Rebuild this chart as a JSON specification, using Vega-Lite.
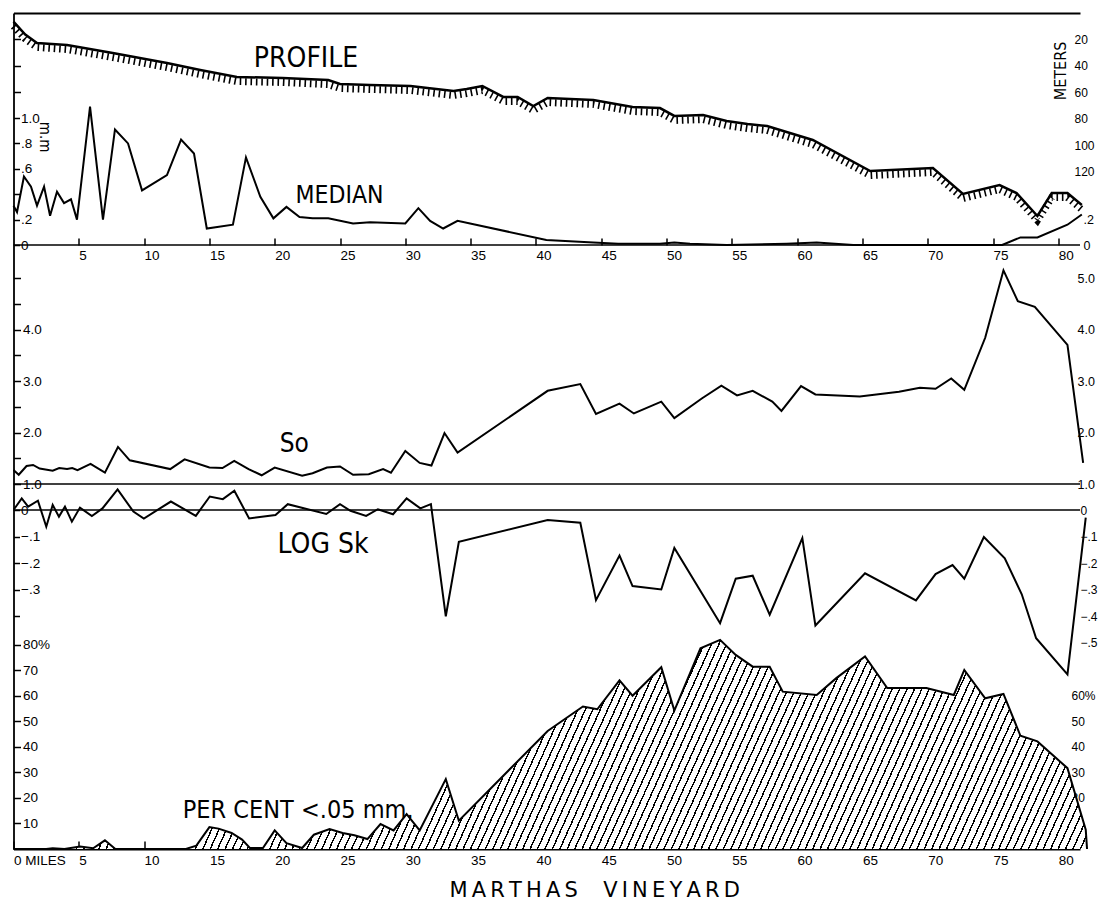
{
"$schema":"https://vega.github.io/schema/vega-lite/v6.json",
"width":1066.5,"height":836,
"autosize":{"type":"none"},
"padding":{"left":13.5,"top":13,"right":18,"bottom":52},
"background":"white",
"config":{"view":{"stroke":null},"axis":{"grid":false,"labelFont":"Liberation Sans Narrow, Liberation Sans, sans-serif","labelFontSize":13.5,"labelColor":"#000","tickColor":"#000","domainColor":"#000","labelOverlap":false,"labelFlush":false,"labelBound":false}},
"datasets":{
"profile":[{"mile":0,"value":6.6},{"mile":0.9,"value":16.3},{"mile":1.8,"value":22.7},{"mile":4.1,"value":24.2},{"mile":7.6,"value":30.3},{"mile":11.75,"value":37.9},{"mile":14.3,"value":43.2},{"mile":17.1,"value":48.5},{"mile":20.6,"value":49.2},{"mile":24.1,"value":50.8},{"mile":25.0,"value":53.8},{"mile":27.3,"value":54.5},{"mile":30.4,"value":55.3},{"mile":31.7,"value":56.8},{"mile":33.7,"value":59.1},{"mile":34.7,"value":57.6},{"mile":35.9,"value":55.3},{"mile":37.5,"value":63.6},{"mile":38.6,"value":63.6},{"mile":39.8,"value":70.5},{"mile":40.9,"value":64.4},{"mile":44.4,"value":65.9},{"mile":47.4,"value":71.2},{"mile":49.5,"value":72.0},{"mile":50.6,"value":78.0},{"mile":52.8,"value":77.3},{"mile":54.6,"value":81.8},{"mile":56.2,"value":84.1},{"mile":57.7,"value":85.6},{"mile":61.2,"value":96.2},{"mile":65.6,"value":119.7},{"mile":70.4,"value":117.4},{"mile":72.7,"value":137.1},{"mile":75.5,"value":130.3},{"mile":76.8,"value":136.4},{"mile":78.4,"value":153.8},{"mile":79.5,"value":136.4},{"mile":80.7,"value":136.4},{"mile":81.8,"value":145.5}],
"median":[{"mile":0,"value":0.31},{"mile":0.27,"value":0.26},{"mile":0.8,"value":0.54},{"mile":1.34,"value":0.46},{"mile":1.8,"value":0.31},{"mile":2.34,"value":0.46},{"mile":2.8,"value":0.23},{"mile":3.33,"value":0.42},{"mile":3.87,"value":0.33},{"mile":4.4,"value":0.36},{"mile":4.86,"value":0.2},{"mile":5.86,"value":1.09},{"mile":6.85,"value":0.2},{"mile":7.77,"value":0.91},{"mile":8.77,"value":0.8},{"mile":9.84,"value":0.43},{"mile":11.75,"value":0.55},{"mile":12.83,"value":0.83},{"mile":13.82,"value":0.72},{"mile":14.8,"value":0.13},{"mile":16.8,"value":0.16},{"mile":17.8,"value":0.69},{"mile":18.9,"value":0.38},{"mile":19.9,"value":0.21},{"mile":20.9,"value":0.3},{"mile":21.9,"value":0.22},{"mile":22.9,"value":0.21},{"mile":24.1,"value":0.21},{"mile":26,"value":0.17},{"mile":27.3,"value":0.18},{"mile":30,"value":0.17},{"mile":31,"value":0.29},{"mile":31.9,"value":0.19},{"mile":32.9,"value":0.13},{"mile":34,"value":0.19},{"mile":40.8,"value":0.04},{"mile":44.4,"value":0.02},{"mile":46.3,"value":0.01},{"mile":49.5,"value":0.01},{"mile":50.6,"value":0.02},{"mile":51.8,"value":0.01},{"mile":54.6,"value":0},{"mile":59.2,"value":0.01},{"mile":61.5,"value":0.02},{"mile":64.3,"value":0},{"mile":75.7,"value":0},{"mile":77.1,"value":0.06},{"mile":78.4,"value":0.06},{"mile":80.7,"value":0.16},{"mile":81.8,"value":0.24}],
"sorting":[{"mile":0,"value":1.27},{"mile":0.4,"value":1.18},{"mile":1.0,"value":1.35},{"mile":1.5,"value":1.37},{"mile":2.0,"value":1.30},{"mile":3.0,"value":1.26},{"mile":3.5,"value":1.31},{"mile":4.1,"value":1.29},{"mile":4.5,"value":1.31},{"mile":4.9,"value":1.27},{"mile":5.9,"value":1.39},{"mile":7.0,"value":1.22},{"mile":8.0,"value":1.72},{"mile":8.9,"value":1.46},{"mile":12.0,"value":1.29},{"mile":13.1,"value":1.48},{"mile":15.0,"value":1.32},{"mile":16.0,"value":1.31},{"mile":16.9,"value":1.45},{"mile":18.0,"value":1.29},{"mile":19.0,"value":1.17},{"mile":20.0,"value":1.32},{"mile":22.1,"value":1.16},{"mile":22.9,"value":1.21},{"mile":24.0,"value":1.32},{"mile":25.0,"value":1.34},{"mile":26.0,"value":1.18},{"mile":27.2,"value":1.19},{"mile":28.3,"value":1.29},{"mile":28.9,"value":1.22},{"mile":30.0,"value":1.64},{"mile":31.1,"value":1.41},{"mile":32.0,"value":1.36},{"mile":33.0,"value":1.99},{"mile":34.0,"value":1.61},{"mile":40.9,"value":2.81},{"mile":43.4,"value":2.94},{"mile":44.6,"value":2.36},{"mile":46.4,"value":2.56},{"mile":47.5,"value":2.37},{"mile":49.6,"value":2.60},{"mile":50.6,"value":2.28},{"mile":52.7,"value":2.66},{"mile":54.2,"value":2.91},{"mile":55.4,"value":2.72},{"mile":56.6,"value":2.81},{"mile":58.1,"value":2.60},{"mile":58.8,"value":2.42},{"mile":60.3,"value":2.90},{"mile":61.4,"value":2.74},{"mile":64.8,"value":2.70},{"mile":67.8,"value":2.79},{"mile":69.4,"value":2.87},{"mile":70.6,"value":2.85},{"mile":71.8,"value":3.05},{"mile":72.8,"value":2.83},{"mile":74.4,"value":3.84},{"mile":75.8,"value":5.15},{"mile":76.9,"value":4.55},{"mile":78.2,"value":4.44},{"mile":80.7,"value":3.70},{"mile":81.9,"value":1.41}],
"skew":[{"mile":0.04,"value":0.003},{"mile":0.63,"value":0.044},{"mile":1.12,"value":0.013},{"mile":1.87,"value":0.035},{"mile":2.51,"value":-0.063},{"mile":3.0,"value":0.019},{"mile":3.48,"value":-0.025},{"mile":3.94,"value":0.013},{"mile":4.47,"value":-0.044},{"mile":5.09,"value":0.009},{"mile":6.0,"value":-0.023},{"mile":6.81,"value":0.006},{"mile":7.97,"value":0.078},{"mile":9.18,"value":-0.006},{"mile":9.98,"value":-0.032},{"mile":12.05,"value":0.032},{"mile":13.96,"value":-0.022},{"mile":15.03,"value":0.051},{"mile":16.03,"value":0.041},{"mile":16.91,"value":0.073},{"mile":18.04,"value":-0.032},{"mile":20.06,"value":-0.019},{"mile":21.0,"value":0.022},{"mile":23.95,"value":-0.015},{"mile":25.0,"value":0.022},{"mile":25.8,"value":-0.003},{"mile":27.0,"value":-0.022},{"mile":27.9,"value":0.003},{"mile":29.06,"value":-0.016},{"mile":30.1,"value":0.044},{"mile":31.15,"value":0.006},{"mile":31.96,"value":0.022},{"mile":33.1,"value":-0.401},{"mile":34.1,"value":-0.12},{"mile":40.9,"value":-0.038},{"mile":43.4,"value":-0.048},{"mile":44.6,"value":-0.34},{"mile":46.4,"value":-0.172},{"mile":47.4,"value":-0.287},{"mile":49.6,"value":-0.30},{"mile":50.6,"value":-0.143},{"mile":54.1,"value":-0.427},{"mile":55.3,"value":-0.259},{"mile":56.6,"value":-0.248},{"mile":57.9,"value":-0.395},{"mile":60.4,"value":-0.106},{"mile":61.4,"value":-0.436},{"mile":65.2,"value":-0.239},{"mile":69.1,"value":-0.341},{"mile":70.6,"value":-0.242},{"mile":71.9,"value":-0.208},{"mile":72.8,"value":-0.259},{"mile":74.3,"value":-0.102},{"mile":75.9,"value":-0.182},{"mile":77.2,"value":-0.318},{"mile":78.3,"value":-0.484},{"mile":80.7,"value":-0.62},{"mile":82.1,"value":-0.029}],
"fine":[{"mile":0,"value":0},{"mile":2.5,"value":0},{"mile":3.0,"value":0.3},{"mile":3.9,"value":0},{"mile":5.1,"value":1.0},{"mile":6.1,"value":0.3},{"mile":7.0,"value":3.4},{"mile":7.8,"value":0},{"mile":13.2,"value":0},{"mile":14.0,"value":1.3},{"mile":15.0,"value":8.6},{"mile":15.7,"value":8.0},{"mile":16.7,"value":6.3},{"mile":17.5,"value":3.7},{"mile":18.1,"value":0.4},{"mile":19.1,"value":0.4},{"mile":20.0,"value":7.3},{"mile":20.9,"value":2.3},{"mile":22.1,"value":0.4},{"mile":23.0,"value":5.6},{"mile":24.2,"value":7.8},{"mile":25.2,"value":6.3},{"mile":26.1,"value":5.4},{"mile":27.1,"value":3.9},{"mile":28.1,"value":9.8},{"mile":29.1,"value":7.3},{"mile":30.1,"value":13.7},{"mile":31.1,"value":7.3},{"mile":33.1,"value":27.4},{"mile":34.1,"value":11.1},{"mile":40.9,"value":46.3},{"mile":43.6,"value":55.9},{"mile":44.7,"value":54.8},{"mile":46.4,"value":66.1},{"mile":47.4,"value":60.1},{"mile":49.6,"value":71.3},{"mile":50.6,"value":54.3},{"mile":52.6,"value":78.7},{"mile":54.1,"value":82.0},{"mile":55.3,"value":76.1},{"mile":56.6,"value":71.5},{"mile":57.9,"value":71.5},{"mile":58.9,"value":61.7},{"mile":61.5,"value":60.4},{"mile":63.0,"value":67.0},{"mile":65.2,"value":75.5},{"mile":66.9,"value":63.1},{"mile":69.9,"value":63.1},{"mile":72.0,"value":60.4},{"mile":72.8,"value":70.2},{"mile":74.4,"value":59.1},{"mile":75.8,"value":60.8},{"mile":77.1,"value":44.4},{"mile":78.4,"value":42.2},{"mile":80.7,"value":31.7},{"mile":82.1,"value":7.6},{"mile":82.2,"value":0}]
},
"resolve":{"scale":{"y":"independent"},"axis":{"y":"independent","x":"independent"}},
"layer":[
{"data":{"name":"fine"},
 "mark":{"type":"area","stroke":null,"fill":{"gradient":"linear","x1":0,"y1":0,"x2":1.1,"y2":0.0964,"stops":[
{"offset":0,"color":"#000"},{"offset":0.0013,"color":"#000"},{"offset":0.0013,"color":"#fff"},{"offset":0.00625,"color":"#fff"},
{"offset":0.00625,"color":"#000"},{"offset":0.00755,"color":"#000"},{"offset":0.00755,"color":"#fff"},{"offset":0.0125,"color":"#fff"},
{"offset":0.0125,"color":"#000"},{"offset":0.0138,"color":"#000"},{"offset":0.0138,"color":"#fff"},{"offset":0.01875,"color":"#fff"},
{"offset":0.01875,"color":"#000"},{"offset":0.02005,"color":"#000"},{"offset":0.02005,"color":"#fff"},{"offset":0.025,"color":"#fff"},
{"offset":0.025,"color":"#000"},{"offset":0.0263,"color":"#000"},{"offset":0.0263,"color":"#fff"},{"offset":0.03125,"color":"#fff"},
{"offset":0.03125,"color":"#000"},{"offset":0.03255,"color":"#000"},{"offset":0.03255,"color":"#fff"},{"offset":0.0375,"color":"#fff"},
{"offset":0.0375,"color":"#000"},{"offset":0.0388,"color":"#000"},{"offset":0.0388,"color":"#fff"},{"offset":0.04375,"color":"#fff"},
{"offset":0.04375,"color":"#000"},{"offset":0.04505,"color":"#000"},{"offset":0.04505,"color":"#fff"},{"offset":0.05,"color":"#fff"},
{"offset":0.05,"color":"#000"},{"offset":0.0513,"color":"#000"},{"offset":0.0513,"color":"#fff"},{"offset":0.05625,"color":"#fff"},
{"offset":0.05625,"color":"#000"},{"offset":0.05755,"color":"#000"},{"offset":0.05755,"color":"#fff"},{"offset":0.0625,"color":"#fff"},
{"offset":0.0625,"color":"#000"},{"offset":0.0638,"color":"#000"},{"offset":0.0638,"color":"#fff"},{"offset":0.06875,"color":"#fff"},
{"offset":0.06875,"color":"#000"},{"offset":0.07005,"color":"#000"},{"offset":0.07005,"color":"#fff"},{"offset":0.075,"color":"#fff"},
{"offset":0.075,"color":"#000"},{"offset":0.0763,"color":"#000"},{"offset":0.0763,"color":"#fff"},{"offset":0.08125,"color":"#fff"},
{"offset":0.08125,"color":"#000"},{"offset":0.08255,"color":"#000"},{"offset":0.08255,"color":"#fff"},{"offset":0.0875,"color":"#fff"},
{"offset":0.0875,"color":"#000"},{"offset":0.0888,"color":"#000"},{"offset":0.0888,"color":"#fff"},{"offset":0.09375,"color":"#fff"},
{"offset":0.09375,"color":"#000"},{"offset":0.09505,"color":"#000"},{"offset":0.09505,"color":"#fff"},{"offset":0.1,"color":"#fff"},
{"offset":0.1,"color":"#000"},{"offset":0.1013,"color":"#000"},{"offset":0.1013,"color":"#fff"},{"offset":0.10625,"color":"#fff"},
{"offset":0.10625,"color":"#000"},{"offset":0.10755,"color":"#000"},{"offset":0.10755,"color":"#fff"},{"offset":0.1125,"color":"#fff"},
{"offset":0.1125,"color":"#000"},{"offset":0.1138,"color":"#000"},{"offset":0.1138,"color":"#fff"},{"offset":0.11875,"color":"#fff"},
{"offset":0.11875,"color":"#000"},{"offset":0.12005,"color":"#000"},{"offset":0.12005,"color":"#fff"},{"offset":0.125,"color":"#fff"},
{"offset":0.125,"color":"#000"},{"offset":0.1263,"color":"#000"},{"offset":0.1263,"color":"#fff"},{"offset":0.13125,"color":"#fff"},
{"offset":0.13125,"color":"#000"},{"offset":0.13255,"color":"#000"},{"offset":0.13255,"color":"#fff"},{"offset":0.1375,"color":"#fff"},
{"offset":0.1375,"color":"#000"},{"offset":0.1388,"color":"#000"},{"offset":0.1388,"color":"#fff"},{"offset":0.14375,"color":"#fff"},
{"offset":0.14375,"color":"#000"},{"offset":0.14505,"color":"#000"},{"offset":0.14505,"color":"#fff"},{"offset":0.15,"color":"#fff"},
{"offset":0.15,"color":"#000"},{"offset":0.1513,"color":"#000"},{"offset":0.1513,"color":"#fff"},{"offset":0.15625,"color":"#fff"},
{"offset":0.15625,"color":"#000"},{"offset":0.15755,"color":"#000"},{"offset":0.15755,"color":"#fff"},{"offset":0.1625,"color":"#fff"},
{"offset":0.1625,"color":"#000"},{"offset":0.1638,"color":"#000"},{"offset":0.1638,"color":"#fff"},{"offset":0.16875,"color":"#fff"},
{"offset":0.16875,"color":"#000"},{"offset":0.17005,"color":"#000"},{"offset":0.17005,"color":"#fff"},{"offset":0.175,"color":"#fff"},
{"offset":0.175,"color":"#000"},{"offset":0.1763,"color":"#000"},{"offset":0.1763,"color":"#fff"},{"offset":0.18125,"color":"#fff"},
{"offset":0.18125,"color":"#000"},{"offset":0.18255,"color":"#000"},{"offset":0.18255,"color":"#fff"},{"offset":0.1875,"color":"#fff"},
{"offset":0.1875,"color":"#000"},{"offset":0.1888,"color":"#000"},{"offset":0.1888,"color":"#fff"},{"offset":0.19375,"color":"#fff"},
{"offset":0.19375,"color":"#000"},{"offset":0.19505,"color":"#000"},{"offset":0.19505,"color":"#fff"},{"offset":0.2,"color":"#fff"},
{"offset":0.2,"color":"#000"},{"offset":0.2013,"color":"#000"},{"offset":0.2013,"color":"#fff"},{"offset":0.20625,"color":"#fff"},
{"offset":0.20625,"color":"#000"},{"offset":0.20755,"color":"#000"},{"offset":0.20755,"color":"#fff"},{"offset":0.2125,"color":"#fff"},
{"offset":0.2125,"color":"#000"},{"offset":0.2138,"color":"#000"},{"offset":0.2138,"color":"#fff"},{"offset":0.21875,"color":"#fff"},
{"offset":0.21875,"color":"#000"},{"offset":0.22005,"color":"#000"},{"offset":0.22005,"color":"#fff"},{"offset":0.225,"color":"#fff"},
{"offset":0.225,"color":"#000"},{"offset":0.2263,"color":"#000"},{"offset":0.2263,"color":"#fff"},{"offset":0.23125,"color":"#fff"},
{"offset":0.23125,"color":"#000"},{"offset":0.23255,"color":"#000"},{"offset":0.23255,"color":"#fff"},{"offset":0.2375,"color":"#fff"},
{"offset":0.2375,"color":"#000"},{"offset":0.2388,"color":"#000"},{"offset":0.2388,"color":"#fff"},{"offset":0.24375,"color":"#fff"},
{"offset":0.24375,"color":"#000"},{"offset":0.24505,"color":"#000"},{"offset":0.24505,"color":"#fff"},{"offset":0.25,"color":"#fff"},
{"offset":0.25,"color":"#000"},{"offset":0.2513,"color":"#000"},{"offset":0.2513,"color":"#fff"},{"offset":0.25625,"color":"#fff"},
{"offset":0.25625,"color":"#000"},{"offset":0.25755,"color":"#000"},{"offset":0.25755,"color":"#fff"},{"offset":0.2625,"color":"#fff"},
{"offset":0.2625,"color":"#000"},{"offset":0.2638,"color":"#000"},{"offset":0.2638,"color":"#fff"},{"offset":0.26875,"color":"#fff"},
{"offset":0.26875,"color":"#000"},{"offset":0.27005,"color":"#000"},{"offset":0.27005,"color":"#fff"},{"offset":0.275,"color":"#fff"},
{"offset":0.275,"color":"#000"},{"offset":0.2763,"color":"#000"},{"offset":0.2763,"color":"#fff"},{"offset":0.28125,"color":"#fff"},
{"offset":0.28125,"color":"#000"},{"offset":0.28255,"color":"#000"},{"offset":0.28255,"color":"#fff"},{"offset":0.2875,"color":"#fff"},
{"offset":0.2875,"color":"#000"},{"offset":0.2888,"color":"#000"},{"offset":0.2888,"color":"#fff"},{"offset":0.29375,"color":"#fff"},
{"offset":0.29375,"color":"#000"},{"offset":0.29505,"color":"#000"},{"offset":0.29505,"color":"#fff"},{"offset":0.3,"color":"#fff"},
{"offset":0.3,"color":"#000"},{"offset":0.3013,"color":"#000"},{"offset":0.3013,"color":"#fff"},{"offset":0.30625,"color":"#fff"},
{"offset":0.30625,"color":"#000"},{"offset":0.30755,"color":"#000"},{"offset":0.30755,"color":"#fff"},{"offset":0.3125,"color":"#fff"},
{"offset":0.3125,"color":"#000"},{"offset":0.3138,"color":"#000"},{"offset":0.3138,"color":"#fff"},{"offset":0.31875,"color":"#fff"},
{"offset":0.31875,"color":"#000"},{"offset":0.32005,"color":"#000"},{"offset":0.32005,"color":"#fff"},{"offset":0.325,"color":"#fff"},
{"offset":0.325,"color":"#000"},{"offset":0.3263,"color":"#000"},{"offset":0.3263,"color":"#fff"},{"offset":0.33125,"color":"#fff"},
{"offset":0.33125,"color":"#000"},{"offset":0.33255,"color":"#000"},{"offset":0.33255,"color":"#fff"},{"offset":0.3375,"color":"#fff"},
{"offset":0.3375,"color":"#000"},{"offset":0.3388,"color":"#000"},{"offset":0.3388,"color":"#fff"},{"offset":0.34375,"color":"#fff"},
{"offset":0.34375,"color":"#000"},{"offset":0.34505,"color":"#000"},{"offset":0.34505,"color":"#fff"},{"offset":0.35,"color":"#fff"},
{"offset":0.35,"color":"#000"},{"offset":0.3513,"color":"#000"},{"offset":0.3513,"color":"#fff"},{"offset":0.35625,"color":"#fff"},
{"offset":0.35625,"color":"#000"},{"offset":0.35755,"color":"#000"},{"offset":0.35755,"color":"#fff"},{"offset":0.3625,"color":"#fff"},
{"offset":0.3625,"color":"#000"},{"offset":0.3638,"color":"#000"},{"offset":0.3638,"color":"#fff"},{"offset":0.36875,"color":"#fff"},
{"offset":0.36875,"color":"#000"},{"offset":0.37005,"color":"#000"},{"offset":0.37005,"color":"#fff"},{"offset":0.375,"color":"#fff"},
{"offset":0.375,"color":"#000"},{"offset":0.3763,"color":"#000"},{"offset":0.3763,"color":"#fff"},{"offset":0.38125,"color":"#fff"},
{"offset":0.38125,"color":"#000"},{"offset":0.38255,"color":"#000"},{"offset":0.38255,"color":"#fff"},{"offset":0.3875,"color":"#fff"},
{"offset":0.3875,"color":"#000"},{"offset":0.3888,"color":"#000"},{"offset":0.3888,"color":"#fff"},{"offset":0.39375,"color":"#fff"},
{"offset":0.39375,"color":"#000"},{"offset":0.39505,"color":"#000"},{"offset":0.39505,"color":"#fff"},{"offset":0.4,"color":"#fff"},
{"offset":0.4,"color":"#000"},{"offset":0.4013,"color":"#000"},{"offset":0.4013,"color":"#fff"},{"offset":0.40625,"color":"#fff"},
{"offset":0.40625,"color":"#000"},{"offset":0.40755,"color":"#000"},{"offset":0.40755,"color":"#fff"},{"offset":0.4125,"color":"#fff"},
{"offset":0.4125,"color":"#000"},{"offset":0.4138,"color":"#000"},{"offset":0.4138,"color":"#fff"},{"offset":0.41875,"color":"#fff"},
{"offset":0.41875,"color":"#000"},{"offset":0.42005,"color":"#000"},{"offset":0.42005,"color":"#fff"},{"offset":0.425,"color":"#fff"},
{"offset":0.425,"color":"#000"},{"offset":0.4263,"color":"#000"},{"offset":0.4263,"color":"#fff"},{"offset":0.43125,"color":"#fff"},
{"offset":0.43125,"color":"#000"},{"offset":0.43255,"color":"#000"},{"offset":0.43255,"color":"#fff"},{"offset":0.4375,"color":"#fff"},
{"offset":0.4375,"color":"#000"},{"offset":0.4388,"color":"#000"},{"offset":0.4388,"color":"#fff"},{"offset":0.44375,"color":"#fff"},
{"offset":0.44375,"color":"#000"},{"offset":0.44505,"color":"#000"},{"offset":0.44505,"color":"#fff"},{"offset":0.45,"color":"#fff"},
{"offset":0.45,"color":"#000"},{"offset":0.4513,"color":"#000"},{"offset":0.4513,"color":"#fff"},{"offset":0.45625,"color":"#fff"},
{"offset":0.45625,"color":"#000"},{"offset":0.45755,"color":"#000"},{"offset":0.45755,"color":"#fff"},{"offset":0.4625,"color":"#fff"},
{"offset":0.4625,"color":"#000"},{"offset":0.4638,"color":"#000"},{"offset":0.4638,"color":"#fff"},{"offset":0.46875,"color":"#fff"},
{"offset":0.46875,"color":"#000"},{"offset":0.47005,"color":"#000"},{"offset":0.47005,"color":"#fff"},{"offset":0.475,"color":"#fff"},
{"offset":0.475,"color":"#000"},{"offset":0.4763,"color":"#000"},{"offset":0.4763,"color":"#fff"},{"offset":0.48125,"color":"#fff"},
{"offset":0.48125,"color":"#000"},{"offset":0.48255,"color":"#000"},{"offset":0.48255,"color":"#fff"},{"offset":0.4875,"color":"#fff"},
{"offset":0.4875,"color":"#000"},{"offset":0.4888,"color":"#000"},{"offset":0.4888,"color":"#fff"},{"offset":0.49375,"color":"#fff"},
{"offset":0.49375,"color":"#000"},{"offset":0.49505,"color":"#000"},{"offset":0.49505,"color":"#fff"},{"offset":0.5,"color":"#fff"},
{"offset":0.5,"color":"#000"},{"offset":0.5013,"color":"#000"},{"offset":0.5013,"color":"#fff"},{"offset":0.50625,"color":"#fff"},
{"offset":0.50625,"color":"#000"},{"offset":0.50755,"color":"#000"},{"offset":0.50755,"color":"#fff"},{"offset":0.5125,"color":"#fff"},
{"offset":0.5125,"color":"#000"},{"offset":0.5138,"color":"#000"},{"offset":0.5138,"color":"#fff"},{"offset":0.51875,"color":"#fff"},
{"offset":0.51875,"color":"#000"},{"offset":0.52005,"color":"#000"},{"offset":0.52005,"color":"#fff"},{"offset":0.525,"color":"#fff"},
{"offset":0.525,"color":"#000"},{"offset":0.5263,"color":"#000"},{"offset":0.5263,"color":"#fff"},{"offset":0.53125,"color":"#fff"},
{"offset":0.53125,"color":"#000"},{"offset":0.53255,"color":"#000"},{"offset":0.53255,"color":"#fff"},{"offset":0.5375,"color":"#fff"},
{"offset":0.5375,"color":"#000"},{"offset":0.5388,"color":"#000"},{"offset":0.5388,"color":"#fff"},{"offset":0.54375,"color":"#fff"},
{"offset":0.54375,"color":"#000"},{"offset":0.54505,"color":"#000"},{"offset":0.54505,"color":"#fff"},{"offset":0.55,"color":"#fff"},
{"offset":0.55,"color":"#000"},{"offset":0.5513,"color":"#000"},{"offset":0.5513,"color":"#fff"},{"offset":0.55625,"color":"#fff"},
{"offset":0.55625,"color":"#000"},{"offset":0.55755,"color":"#000"},{"offset":0.55755,"color":"#fff"},{"offset":0.5625,"color":"#fff"},
{"offset":0.5625,"color":"#000"},{"offset":0.5638,"color":"#000"},{"offset":0.5638,"color":"#fff"},{"offset":0.56875,"color":"#fff"},
{"offset":0.56875,"color":"#000"},{"offset":0.57005,"color":"#000"},{"offset":0.57005,"color":"#fff"},{"offset":0.575,"color":"#fff"},
{"offset":0.575,"color":"#000"},{"offset":0.5763,"color":"#000"},{"offset":0.5763,"color":"#fff"},{"offset":0.58125,"color":"#fff"},
{"offset":0.58125,"color":"#000"},{"offset":0.58255,"color":"#000"},{"offset":0.58255,"color":"#fff"},{"offset":0.5875,"color":"#fff"},
{"offset":0.5875,"color":"#000"},{"offset":0.5888,"color":"#000"},{"offset":0.5888,"color":"#fff"},{"offset":0.59375,"color":"#fff"},
{"offset":0.59375,"color":"#000"},{"offset":0.59505,"color":"#000"},{"offset":0.59505,"color":"#fff"},{"offset":0.6,"color":"#fff"},
{"offset":0.6,"color":"#000"},{"offset":0.6013,"color":"#000"},{"offset":0.6013,"color":"#fff"},{"offset":0.60625,"color":"#fff"},
{"offset":0.60625,"color":"#000"},{"offset":0.60755,"color":"#000"},{"offset":0.60755,"color":"#fff"},{"offset":0.6125,"color":"#fff"},
{"offset":0.6125,"color":"#000"},{"offset":0.6138,"color":"#000"},{"offset":0.6138,"color":"#fff"},{"offset":0.61875,"color":"#fff"},
{"offset":0.61875,"color":"#000"},{"offset":0.62005,"color":"#000"},{"offset":0.62005,"color":"#fff"},{"offset":0.625,"color":"#fff"},
{"offset":0.625,"color":"#000"},{"offset":0.6263,"color":"#000"},{"offset":0.6263,"color":"#fff"},{"offset":0.63125,"color":"#fff"},
{"offset":0.63125,"color":"#000"},{"offset":0.63255,"color":"#000"},{"offset":0.63255,"color":"#fff"},{"offset":0.6375,"color":"#fff"},
{"offset":0.6375,"color":"#000"},{"offset":0.6388,"color":"#000"},{"offset":0.6388,"color":"#fff"},{"offset":0.64375,"color":"#fff"},
{"offset":0.64375,"color":"#000"},{"offset":0.64505,"color":"#000"},{"offset":0.64505,"color":"#fff"},{"offset":0.65,"color":"#fff"},
{"offset":0.65,"color":"#000"},{"offset":0.6513,"color":"#000"},{"offset":0.6513,"color":"#fff"},{"offset":0.65625,"color":"#fff"},
{"offset":0.65625,"color":"#000"},{"offset":0.65755,"color":"#000"},{"offset":0.65755,"color":"#fff"},{"offset":0.6625,"color":"#fff"},
{"offset":0.6625,"color":"#000"},{"offset":0.6638,"color":"#000"},{"offset":0.6638,"color":"#fff"},{"offset":0.66875,"color":"#fff"},
{"offset":0.66875,"color":"#000"},{"offset":0.67005,"color":"#000"},{"offset":0.67005,"color":"#fff"},{"offset":0.675,"color":"#fff"},
{"offset":0.675,"color":"#000"},{"offset":0.6763,"color":"#000"},{"offset":0.6763,"color":"#fff"},{"offset":0.68125,"color":"#fff"},
{"offset":0.68125,"color":"#000"},{"offset":0.68255,"color":"#000"},{"offset":0.68255,"color":"#fff"},{"offset":0.6875,"color":"#fff"},
{"offset":0.6875,"color":"#000"},{"offset":0.6888,"color":"#000"},{"offset":0.6888,"color":"#fff"},{"offset":0.69375,"color":"#fff"},
{"offset":0.69375,"color":"#000"},{"offset":0.69505,"color":"#000"},{"offset":0.69505,"color":"#fff"},{"offset":0.7,"color":"#fff"},
{"offset":0.7,"color":"#000"},{"offset":0.7013,"color":"#000"},{"offset":0.7013,"color":"#fff"},{"offset":0.70625,"color":"#fff"},
{"offset":0.70625,"color":"#000"},{"offset":0.70755,"color":"#000"},{"offset":0.70755,"color":"#fff"},{"offset":0.7125,"color":"#fff"},
{"offset":0.7125,"color":"#000"},{"offset":0.7138,"color":"#000"},{"offset":0.7138,"color":"#fff"},{"offset":0.71875,"color":"#fff"},
{"offset":0.71875,"color":"#000"},{"offset":0.72005,"color":"#000"},{"offset":0.72005,"color":"#fff"},{"offset":0.725,"color":"#fff"},
{"offset":0.725,"color":"#000"},{"offset":0.7263,"color":"#000"},{"offset":0.7263,"color":"#fff"},{"offset":0.73125,"color":"#fff"},
{"offset":0.73125,"color":"#000"},{"offset":0.73255,"color":"#000"},{"offset":0.73255,"color":"#fff"},{"offset":0.7375,"color":"#fff"},
{"offset":0.7375,"color":"#000"},{"offset":0.7388,"color":"#000"},{"offset":0.7388,"color":"#fff"},{"offset":0.74375,"color":"#fff"},
{"offset":0.74375,"color":"#000"},{"offset":0.74505,"color":"#000"},{"offset":0.74505,"color":"#fff"},{"offset":0.75,"color":"#fff"},
{"offset":0.75,"color":"#000"},{"offset":0.7513,"color":"#000"},{"offset":0.7513,"color":"#fff"},{"offset":0.75625,"color":"#fff"},
{"offset":0.75625,"color":"#000"},{"offset":0.75755,"color":"#000"},{"offset":0.75755,"color":"#fff"},{"offset":0.7625,"color":"#fff"},
{"offset":0.7625,"color":"#000"},{"offset":0.7638,"color":"#000"},{"offset":0.7638,"color":"#fff"},{"offset":0.76875,"color":"#fff"},
{"offset":0.76875,"color":"#000"},{"offset":0.77005,"color":"#000"},{"offset":0.77005,"color":"#fff"},{"offset":0.775,"color":"#fff"},
{"offset":0.775,"color":"#000"},{"offset":0.7763,"color":"#000"},{"offset":0.7763,"color":"#fff"},{"offset":0.78125,"color":"#fff"},
{"offset":0.78125,"color":"#000"},{"offset":0.78255,"color":"#000"},{"offset":0.78255,"color":"#fff"},{"offset":0.7875,"color":"#fff"},
{"offset":0.7875,"color":"#000"},{"offset":0.7888,"color":"#000"},{"offset":0.7888,"color":"#fff"},{"offset":0.79375,"color":"#fff"},
{"offset":0.79375,"color":"#000"},{"offset":0.79505,"color":"#000"},{"offset":0.79505,"color":"#fff"},{"offset":0.8,"color":"#fff"},
{"offset":0.8,"color":"#000"},{"offset":0.8013,"color":"#000"},{"offset":0.8013,"color":"#fff"},{"offset":0.80625,"color":"#fff"},
{"offset":0.80625,"color":"#000"},{"offset":0.80755,"color":"#000"},{"offset":0.80755,"color":"#fff"},{"offset":0.8125,"color":"#fff"},
{"offset":0.8125,"color":"#000"},{"offset":0.8138,"color":"#000"},{"offset":0.8138,"color":"#fff"},{"offset":0.81875,"color":"#fff"},
{"offset":0.81875,"color":"#000"},{"offset":0.82005,"color":"#000"},{"offset":0.82005,"color":"#fff"},{"offset":0.825,"color":"#fff"},
{"offset":0.825,"color":"#000"},{"offset":0.8263,"color":"#000"},{"offset":0.8263,"color":"#fff"},{"offset":0.83125,"color":"#fff"},
{"offset":0.83125,"color":"#000"},{"offset":0.83255,"color":"#000"},{"offset":0.83255,"color":"#fff"},{"offset":0.8375,"color":"#fff"},
{"offset":0.8375,"color":"#000"},{"offset":0.8388,"color":"#000"},{"offset":0.8388,"color":"#fff"},{"offset":0.84375,"color":"#fff"},
{"offset":0.84375,"color":"#000"},{"offset":0.84505,"color":"#000"},{"offset":0.84505,"color":"#fff"},{"offset":0.85,"color":"#fff"},
{"offset":0.85,"color":"#000"},{"offset":0.8513,"color":"#000"},{"offset":0.8513,"color":"#fff"},{"offset":0.85625,"color":"#fff"},
{"offset":0.85625,"color":"#000"},{"offset":0.85755,"color":"#000"},{"offset":0.85755,"color":"#fff"},{"offset":0.8625,"color":"#fff"},
{"offset":0.8625,"color":"#000"},{"offset":0.8638,"color":"#000"},{"offset":0.8638,"color":"#fff"},{"offset":0.86875,"color":"#fff"},
{"offset":0.86875,"color":"#000"},{"offset":0.87005,"color":"#000"},{"offset":0.87005,"color":"#fff"},{"offset":0.875,"color":"#fff"},
{"offset":0.875,"color":"#000"},{"offset":0.8763,"color":"#000"},{"offset":0.8763,"color":"#fff"},{"offset":0.88125,"color":"#fff"},
{"offset":0.88125,"color":"#000"},{"offset":0.88255,"color":"#000"},{"offset":0.88255,"color":"#fff"},{"offset":0.8875,"color":"#fff"},
{"offset":0.8875,"color":"#000"},{"offset":0.8888,"color":"#000"},{"offset":0.8888,"color":"#fff"},{"offset":0.89375,"color":"#fff"},
{"offset":0.89375,"color":"#000"},{"offset":0.89505,"color":"#000"},{"offset":0.89505,"color":"#fff"},{"offset":0.9,"color":"#fff"},
{"offset":0.9,"color":"#000"},{"offset":0.9013,"color":"#000"},{"offset":0.9013,"color":"#fff"},{"offset":0.90625,"color":"#fff"},
{"offset":0.90625,"color":"#000"},{"offset":0.90755,"color":"#000"},{"offset":0.90755,"color":"#fff"},{"offset":0.9125,"color":"#fff"},
{"offset":0.9125,"color":"#000"},{"offset":0.9138,"color":"#000"},{"offset":0.9138,"color":"#fff"},{"offset":0.91875,"color":"#fff"},
{"offset":0.91875,"color":"#000"},{"offset":0.92005,"color":"#000"},{"offset":0.92005,"color":"#fff"},{"offset":0.925,"color":"#fff"},
{"offset":0.925,"color":"#000"},{"offset":0.9263,"color":"#000"},{"offset":0.9263,"color":"#fff"},{"offset":0.93125,"color":"#fff"},
{"offset":0.93125,"color":"#000"},{"offset":0.93255,"color":"#000"},{"offset":0.93255,"color":"#fff"},{"offset":0.9375,"color":"#fff"},
{"offset":0.9375,"color":"#000"},{"offset":0.9388,"color":"#000"},{"offset":0.9388,"color":"#fff"},{"offset":0.94375,"color":"#fff"},
{"offset":0.94375,"color":"#000"},{"offset":0.94505,"color":"#000"},{"offset":0.94505,"color":"#fff"},{"offset":0.95,"color":"#fff"},
{"offset":0.95,"color":"#000"},{"offset":0.9513,"color":"#000"},{"offset":0.9513,"color":"#fff"},{"offset":0.95625,"color":"#fff"},
{"offset":0.95625,"color":"#000"},{"offset":0.95755,"color":"#000"},{"offset":0.95755,"color":"#fff"},{"offset":0.9625,"color":"#fff"},
{"offset":0.9625,"color":"#000"},{"offset":0.9638,"color":"#000"},{"offset":0.9638,"color":"#fff"},{"offset":0.96875,"color":"#fff"},
{"offset":0.96875,"color":"#000"},{"offset":0.97005,"color":"#000"},{"offset":0.97005,"color":"#fff"},{"offset":0.975,"color":"#fff"},
{"offset":0.975,"color":"#000"},{"offset":0.9763,"color":"#000"},{"offset":0.9763,"color":"#fff"},{"offset":0.98125,"color":"#fff"},
{"offset":0.98125,"color":"#000"},{"offset":0.98255,"color":"#000"},{"offset":0.98255,"color":"#fff"},{"offset":0.9875,"color":"#fff"},
{"offset":0.9875,"color":"#000"},{"offset":0.9888,"color":"#000"},{"offset":0.9888,"color":"#fff"},{"offset":0.99375,"color":"#fff"},
{"offset":0.99375,"color":"#000"},{"offset":0.99505,"color":"#000"},{"offset":0.99505,"color":"#fff"},{"offset":1,"color":"#fff"}
]}},
 "encoding":{
  "x":{"field":"mile","type":"quantitative","scale":{"domain":[0,81.66],"nice":false,"zero":false},
       "axis":{"orient":"bottom","values":[0,5,10,15,20,25,30,35,40,45,50,55,60,65,70,75,80],"labelExpr":"datum.value==0?'0 MILES':datum.label","tickSize":-8,"tickWidth":1.5,"labelPadding":12,"labelAlign":"left","labelDx":1,"domainWidth":1.8,"title":null}},
  "y":{"field":"value","type":"quantitative","stack":null,"scale":{"domain":[0,327.84],"nice":false,"zero":false},
       "axis":{"orient":"right","offset":-1066.5,"values":[10,20,30,40,50,60,70,80],"labelExpr":"datum.value==80?'80%':datum.label","tickSize":7,"tickWidth":1.5,"labelPadding":2,"domain":false,"title":null}}}},
{"data":{"name":"fine"},
 "mark":{"type":"line","color":"#000","strokeWidth":2},
 "encoding":{
  "x":{"field":"mile","type":"quantitative","scale":{"domain":[0,81.66],"nice":false,"zero":false},"axis":null},
  "y":{"field":"value","type":"quantitative","scale":{"domain":[0,327.84],"nice":false,"zero":false},
       "axis":{"orient":"right","values":[20,30,40,50,60],"labelExpr":"datum.value==60?'60%':datum.label","ticks":false,"domain":false,"labelPadding":-9,"labelFontSize":12,"title":null}}}},
{"data":{"name":"profile"},
 "mark":{"type":"line","color":"#000","strokeWidth":2.5},
 "encoding":{
  "x":{"field":"mile","type":"quantitative","scale":{"domain":[0,81.66],"nice":false,"zero":false},
       "axis":{"orient":"top","ticks":false,"labels":false,"domain":true,"domainWidth":1.8,"title":null}},
  "y":{"field":"value","type":"quantitative","scale":{"domain":[0,633.3],"reverse":true,"nice":false,"zero":false},
       "axis":{"orient":"right","offset":-1066.5,"values":[20,40,60],"labels":false,"tickSize":7,"tickWidth":1.5,"domain":true,"domainWidth":1.8,"title":null}}}},
{"data":{"name":"profile"},
 "mark":{"type":"line","color":"#000","strokeWidth":7,"strokeDash":[1.6,3.8],"yOffset":4.5},
 "encoding":{
  "x":{"field":"mile","type":"quantitative","scale":{"domain":[0,81.66],"nice":false,"zero":false},"axis":null},
  "y":{"field":"value","type":"quantitative","scale":{"domain":[0,633.3],"reverse":true,"nice":false,"zero":false},
       "axis":{"orient":"right","values":[20,40,60,80,100,120],"ticks":false,"domain":false,"labelPadding":-6,"labelFontSize":12,"title":null}}}},
{"data":{"name":"median"},
 "mark":{"type":"line","color":"#000","strokeWidth":2},
 "encoding":{
  "x":{"field":"mile","type":"quantitative","scale":{"domain":[0,81.66],"nice":false,"zero":false},
       "axis":{"orient":"bottom","offset":-604,"values":[5,10,15,20,25,30,35,40,45,50,55,60,65,70,75,80],"tickSize":-7,"tickWidth":1.5,"labelPadding":10,"labelAlign":"left","labelDx":1,"domain":false,"title":null}},
  "y":{"field":"value","type":"quantitative","scale":{"domain":[-4.756,1.827],"nice":false,"zero":false},
       "axis":{"orient":"right","offset":-1066.5,"values":[0,0.2,0.4,0.6,0.8,1],"labelExpr":"datum.value==0?'0':datum.value==0.4?'':datum.value==1?'1.0':replace(format(datum.value,'.1f'),'0.','.')","tickSize":6,"tickWidth":1.5,"labelPadding":1,"domain":false,"title":null}}}},
{"data":{"values":[{}]},
 "mark":{"type":"rule","color":"#000","strokeWidth":1.6},
 "encoding":{
  "y":{"datum":0,"type":"quantitative","scale":{"domain":[-4.756,1.827],"nice":false,"zero":false},
       "axis":{"orient":"right","values":[0,0.2],"labelExpr":"datum.value==0?'0':'.2'","ticks":false,"domain":false,"labelPadding":3,"labelFontSize":12.5,"title":null}}}},
{"data":{"name":"sorting"},
 "mark":{"type":"line","color":"#000","strokeWidth":2},
 "encoding":{
  "x":{"field":"mile","type":"quantitative","scale":{"domain":[0,81.66],"nice":false,"zero":false},"axis":null},
  "y":{"field":"value","type":"quantitative","scale":{"domain":[-6.087,10.146],"nice":false,"zero":false},
       "axis":{"orient":"right","offset":-1066.5,"values":[1,1.5,2,2.5,3,3.5,4,4.5,5],"labelExpr":"(datum.value%1==0&&datum.value<5)?format(datum.value,'.1f'):''","tickSize":7,"tickWidth":1.5,"labelPadding":2,"domain":false,"title":null}}}},
{"data":{"values":[{}]},
 "mark":{"type":"rule","color":"#000","strokeWidth":1.6},
 "encoding":{
  "y":{"datum":1,"type":"quantitative","scale":{"domain":[-6.087,10.146],"nice":false,"zero":false},
       "axis":{"orient":"right","values":[1,2,3,4,5],"labelExpr":"format(datum.value,'.1f')","ticks":false,"domain":false,"labelPadding":-3,"labelFontSize":12.5,"title":null}}}},
{"data":{"name":"skew"},
 "mark":{"type":"line","color":"#000","strokeWidth":2},
 "encoding":{
  "x":{"field":"mile","type":"quantitative","scale":{"domain":[0,81.66],"nice":false,"zero":false},"axis":null},
  "y":{"field":"value","type":"quantitative","scale":{"domain":[-1.2792,1.8755],"nice":false,"zero":false},
       "axis":{"orient":"right","offset":-1066.5,"values":[0,-0.1,-0.2,-0.3,-0.4],"labelExpr":"datum.value==0?'0':datum.value<-0.35?'':replace(format(datum.value,'.1f'),'0.','.')","tickSize":6,"tickWidth":1.5,"labelPadding":1,"domain":false,"title":null}}}},
{"data":{"values":[{}]},
 "mark":{"type":"rule","color":"#000","strokeWidth":1.6},
 "encoding":{
  "y":{"datum":0,"type":"quantitative","scale":{"domain":[-1.2792,1.8755],"nice":false,"zero":false},
       "axis":{"orient":"right","values":[0,-0.1,-0.2,-0.3,-0.4,-0.5],"labelExpr":"datum.value==0?'0':replace(format(datum.value,'.1f'),'0.','.')","ticks":false,"domain":false,"labelPadding":0,"labelFontSize":12,"title":null}}}},
{"data":{"values":[{}]},
 "mark":{"type":"text","text":"PROFILE","font":"Liberation Sans Narrow, DejaVu Sans Condensed, sans-serif","fontSize":28,"align":"center","baseline":"alphabetic","color":"#000"},
 "encoding":{
  "x":{"datum":22.4,"type":"quantitative","scale":{"domain":[0,81.66],"nice":false,"zero":false},"axis":null},
  "y":{"datum":40.9,"type":"quantitative","scale":{"domain":[0,633.3],"reverse":true,"nice":false,"zero":false},"axis":null}}},
{"data":{"values":[{}]},
 "mark":{"type":"text","text":"METERS","font":"Liberation Sans Narrow, DejaVu Sans Condensed, sans-serif","fontSize":16,"align":"center","baseline":"middle","angle":270,"color":"#000"},
 "encoding":{
  "x":{"datum":80.2,"type":"quantitative","scale":{"domain":[0,81.66],"nice":false,"zero":false},"axis":null},
  "y":{"datum":43.9,"type":"quantitative","scale":{"domain":[0,633.3],"reverse":true,"nice":false,"zero":false},"axis":null}}},
{"data":{"values":[{}]},
 "mark":{"type":"text","text":"MEDIAN","font":"Liberation Sans Narrow, DejaVu Sans Condensed, sans-serif","fontSize":24.5,"align":"center","baseline":"alphabetic","color":"#000"},
 "encoding":{
  "x":{"datum":24.96,"type":"quantitative","scale":{"domain":[0,81.66],"nice":false,"zero":false},"axis":null},
  "y":{"datum":0.331,"type":"quantitative","scale":{"domain":[-4.756,1.827],"nice":false,"zero":false},"axis":null}}},
{"data":{"values":[{}]},
 "mark":{"type":"text","text":"m.m","font":"Liberation Sans Narrow, DejaVu Sans Condensed, sans-serif","fontSize":15,"align":"center","baseline":"middle","angle":90,"color":"#000"},
 "encoding":{
  "x":{"datum":2.41,"type":"quantitative","scale":{"domain":[0,81.66],"nice":false,"zero":false},"axis":null},
  "y":{"datum":0.85,"type":"quantitative","scale":{"domain":[-4.756,1.827],"nice":false,"zero":false},"axis":null}}},
{"data":{"values":[{}]},
 "mark":{"type":"text","text":"So","font":"Liberation Sans Narrow, DejaVu Sans Condensed, sans-serif","fontSize":26,"align":"center","baseline":"alphabetic","color":"#000"},
 "encoding":{
  "x":{"datum":21.5,"type":"quantitative","scale":{"domain":[0,81.66],"nice":false,"zero":false},"axis":null},
  "y":{"datum":1.62,"type":"quantitative","scale":{"domain":[-6.087,10.146],"nice":false,"zero":false},"axis":null}}},
{"data":{"values":[{}]},
 "mark":{"type":"text","text":"LOG Sk","font":"Liberation Sans Narrow, DejaVu Sans Condensed, sans-serif","fontSize":28,"align":"center","baseline":"alphabetic","color":"#000"},
 "encoding":{
  "x":{"datum":23.7,"type":"quantitative","scale":{"domain":[0,81.66],"nice":false,"zero":false},"axis":null},
  "y":{"datum":-0.162,"type":"quantitative","scale":{"domain":[-1.2792,1.8755],"nice":false,"zero":false},"axis":null}}},
{"data":{"values":[{}]},
 "mark":{"type":"text","text":"PER CENT <.05 mm.","font":"Liberation Sans Narrow, DejaVu Sans Condensed, sans-serif","fontSize":25,"align":"center","baseline":"alphabetic","color":"#000"},
 "encoding":{
  "x":{"datum":21.8,"type":"quantitative","scale":{"domain":[0,81.66],"nice":false,"zero":false},"axis":null},
  "y":{"datum":12.2,"type":"quantitative","scale":{"domain":[0,327.84],"nice":false,"zero":false},"axis":null}}},
{"data":{"values":[{}]},
 "mark":{"type":"text","text":"M\u2009A\u2009R\u2009T\u2009H\u2009A\u2009S\u2009\u2003V\u2009I\u2009N\u2009E\u2009Y\u2009A\u2009R\u2009D","font":"DejaVu Sans, sans-serif","fontSize":21,"align":"center","baseline":"alphabetic","color":"#000"},
 "encoding":{
  "x":{"datum":44.5,"type":"quantitative","scale":{"domain":[0,81.66],"nice":false,"zero":false},"axis":null},
  "y":{"datum":-18.8,"type":"quantitative","scale":{"domain":[0,327.84],"nice":false,"zero":false},"axis":null}}}
]
}
